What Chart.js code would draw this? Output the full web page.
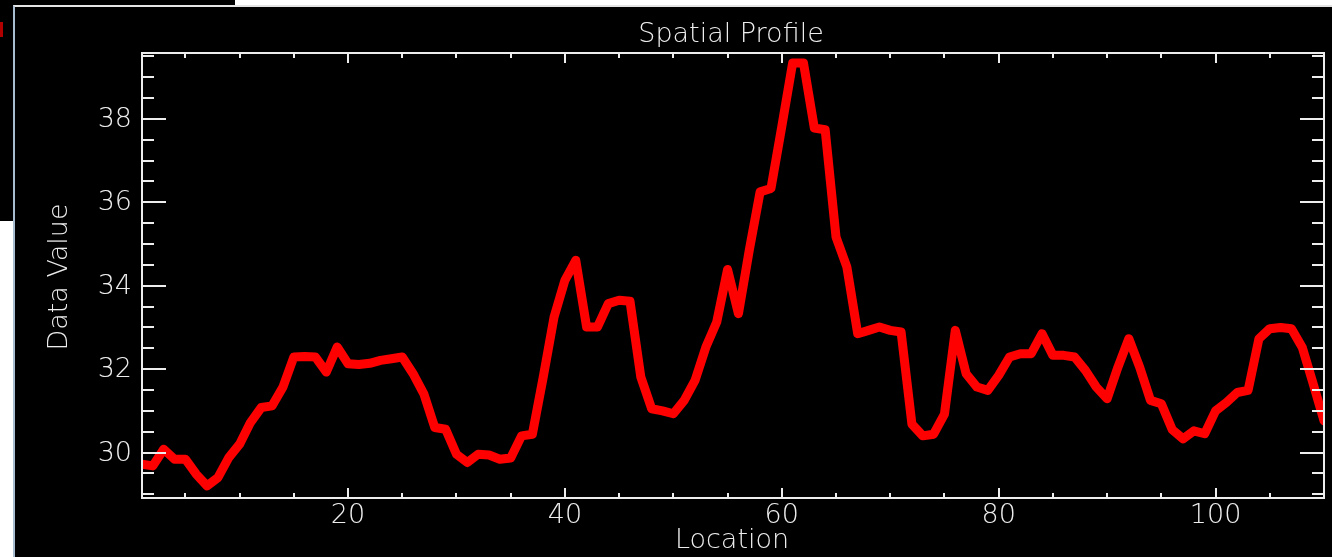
<!DOCTYPE html>
<html>
<head>
<meta charset="utf-8">
<script src="https://cdn.jsdelivr.net/npm/chart.js@4"></script>
<style>
  html, body { margin: 0; padding: 0; background: #ffffff; width: 1332px; height: 557px; overflow: hidden; }
  #back { position: absolute; left: 0; top: 0; width: 235px; height: 221px; background: #000; }
  #dot { position: absolute; left: 0; top: 22px; width: 3px; height: 15px; background: #b00000; }
  #win { position: absolute; left: 13px; top: 5px; right: 0; bottom: 0; background: #000;
         border-top: 2px solid #e4e4e4; border-left: 2px solid #a9bccf; }
  #chart { position: absolute; left: 0; top: 0; }
</style>
</head>
<body>
<div id="back"><div id="dot"></div></div>
<div id="win"></div>
<canvas id="chart" width="1332" height="557"></canvas>
<script>
var location_ = [1,2,3,4,5,6,7,8,9,10,11,12,13,14,15,16,17,18,19,20,
  21,22,23,24,25,26,27,28,29,30,31,32,33,34,35,36,37,38,39,40,
  41,42,43,44,45,46,47,48,49,50,51,52,53,54,55,56,57,58,59,60,
  61,62,63,64,65,66,67,68,69,70,71,72,73,74,75,76,77,78,79,80,
  81,82,83,84,85,86,87,88,89,90,91,92,93,94,95,96,97,98,99,100,
  101,102,103,104,105,106,107,108,109,110]

var dataValue = [29.72,29.68,30.08,29.84,29.84,29.48,29.2,29.4,29.88,30.2,
  30.72,31.08,31.12,31.57,32.29,32.3,32.29,31.93,32.53,32.13,
  32.11,32.14,32.21,32.25,32.29,31.89,31.4,30.6,30.56,29.96,
  29.76,29.96,29.94,29.84,29.87,30.4,30.44,31.81,33.25,34.13,
  34.61,33.01,33.01,33.57,33.65,33.63,31.81,31.05,31.0,30.93,
  31.25,31.73,32.53,33.13,34.39,33.33,34.85,36.25,36.33,37.82,
  39.34,39.34,37.78,37.74,35.17,34.45,32.85,32.93,33.01,32.93,
  32.89,30.68,30.4,30.44,30.92,32.93,31.89,31.57,31.49,31.85,
  32.29,32.37,32.37,32.85,32.33,32.33,32.29,31.97,31.57,31.29,
  32.05,32.73,32.05,31.25,31.17,30.55,30.33,30.52,30.45,31.0,
  31.2,31.44,31.49,32.73,32.97,33.0,32.97,32.52,31.65,30.76]

var xMajorTicks = [20, 40, 60, 80, 100]
var xMinorTicks = [5,10,15,25,30,35,45,50,55,65,70,75,85,90,95,105]
var yMajorTicks = [30, 32, 34, 36, 38]
var yMinorTicks = [29,29.5,30.5,31,31.5,32.5,33,33.5,34.5,35,35.5,36.5,37,37.5,38.5,39,39.5]

var fg = "#ededed"
var font = "200 27px 'DejaVu Sans', sans-serif"

var idlAxes = {
  id: "idlAxes",
  afterDraw: function (chart) {
    var ctx = chart.ctx
    var a = chart.chartArea
    var xs = chart.scales.x
    var ys = chart.scales.y
    ctx.save()
    ctx.strokeStyle = fg
    ctx.lineWidth = 2
    ctx.strokeRect(a.left, a.top, a.right - a.left, a.bottom - a.top)

    ctx.beginPath()
    xMajorTicks.concat(xMinorTicks).forEach(function (v) {
      var len = xMajorTicks.indexOf(v) >= 0 ? 10 : 5
      var px = Math.round(xs.getPixelForValue(v))
      ctx.moveTo(px, a.bottom); ctx.lineTo(px, a.bottom - len)
      ctx.moveTo(px, a.top); ctx.lineTo(px, a.top + len)
    })
    yMajorTicks.concat(yMinorTicks).forEach(function (v) {
      var len = yMajorTicks.indexOf(v) >= 0 ? 24 : 12
      var py = Math.round(ys.getPixelForValue(v))
      ctx.moveTo(a.left, py); ctx.lineTo(a.left + len, py)
      ctx.moveTo(a.right, py); ctx.lineTo(a.right - len, py)
    })
    ctx.stroke()

    ctx.fillStyle = fg
    ctx.font = font
    ctx.textBaseline = "middle"
    ctx.textAlign = "right"
    yMajorTicks.forEach(function (v) {
      ctx.fillText(String(v), a.left - 10, ys.getPixelForValue(v) + 1)
    })
    ctx.textAlign = "center"
    xMajorTicks.forEach(function (v) {
      ctx.fillText(String(v), xs.getPixelForValue(v), a.bottom + 18)
    })
    var cx = (a.left + a.right) / 2
    ctx.fillText("Spatial Profile", cx - 2, 35)
    ctx.fillText("Location", cx - 1, 541)
    ctx.translate(60, 277)
    ctx.rotate(-Math.PI / 2)
    ctx.fillText("Data Value", 0, 0)
    ctx.restore()
  }
}

var points = location_.map(function (x, i) { return { x: x, y: dataValue[i] } })

new Chart(document.getElementById("chart"), {
  type: "line",
  data: {
    datasets: [{
      data: points,
      borderColor: "#ff0000",
      borderWidth: 9,
      borderJoinStyle: "round",
      borderCapStyle: "round",
      pointRadius: 0,
      tension: 0,
      fill: false
    }]
  },
  options: {
    responsive: false,
    animation: false,
    layout: { padding: { left: 142, right: 8, top: 53, bottom: 59 } },
    plugins: { legend: { display: false }, tooltip: { enabled: false }, title: { display: false } },
    scales: {
      x: { type: "linear", min: 1, max: 110, display: false },
      y: { type: "linear", min: 28.91, max: 39.58, display: false }
    }
  },
  plugins: [idlAxes]
})
</script>
</body>
</html>
